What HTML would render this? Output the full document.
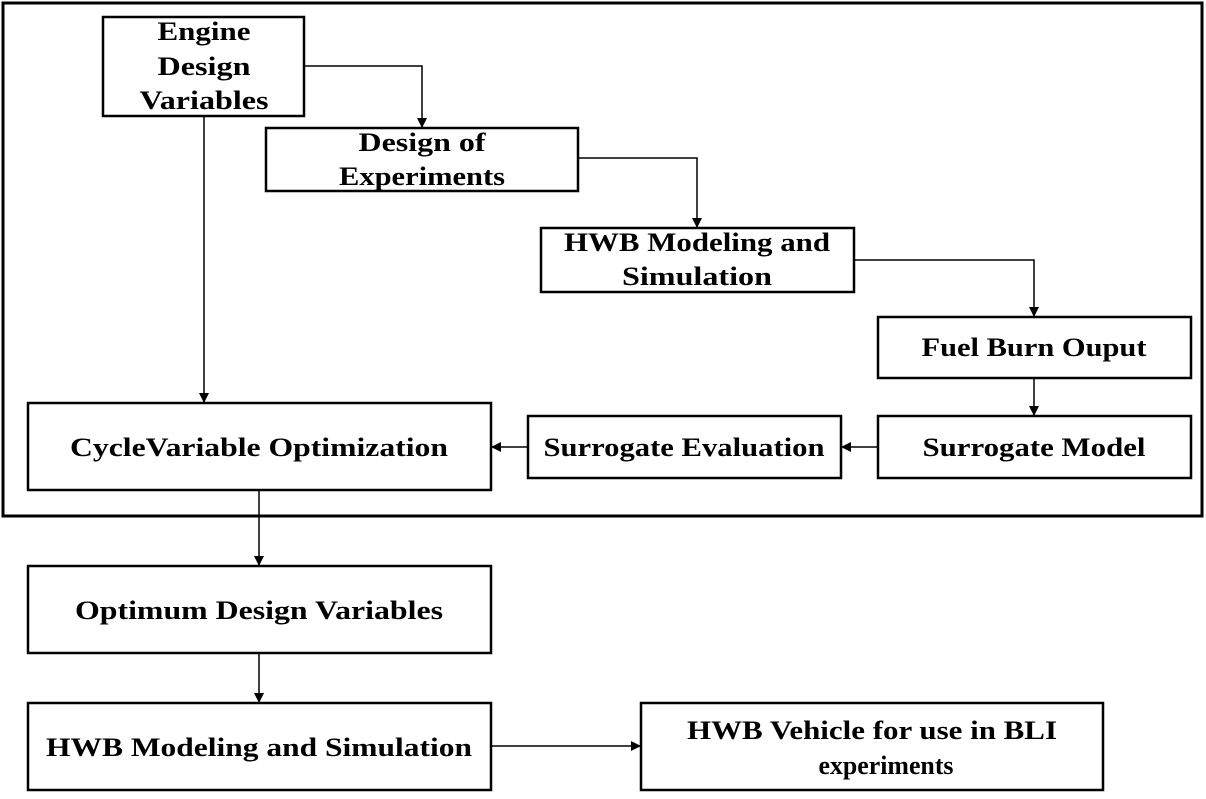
<!DOCTYPE html>
<html><head><style>
body{margin:0;background:#fff;}
svg text{font-family:"Liberation Serif",serif;font-weight:bold;font-size:26px;fill:#000;text-anchor:middle;}
</style></head><body>
<svg width="1206" height="794" viewBox="0 0 1206 794" xmlns="http://www.w3.org/2000/svg">
<defs><marker id="a" markerWidth="10" markerHeight="10" refX="9" refY="5" orient="auto" markerUnits="userSpaceOnUse"><path d="M0,0 L10,5 L0,10 z" fill="#000"/></marker></defs>
<rect x="3" y="3" width="1199" height="513" fill="none" stroke="#000" stroke-width="3"/>
<g fill="#fff" stroke="#000" stroke-width="2.5">
<rect x="103" y="17" width="201" height="99"/>
<rect x="266" y="128" width="312" height="63"/>
<rect x="541" y="228" width="313" height="64"/>
<rect x="878" y="317" width="313" height="61"/>
<rect x="878" y="416" width="313" height="62"/>
<rect x="528" y="416" width="313" height="62"/>
<rect x="28" y="403" width="463" height="87"/>
<rect x="28" y="566" width="463" height="87"/>
<rect x="28" y="703" width="463" height="87"/>
<rect x="641" y="703" width="462" height="87"/>
</g>
<g fill="none" stroke="#000" stroke-width="1.5" marker-end="url(#a)">
<path d="M304,66 H422 V127"/>
<path d="M578,158 H697 V227"/>
<path d="M854,260 H1034 V316"/>
<path d="M1034,378 V415"/>
<path d="M878,447 H842"/>
<path d="M528,447 H492"/>
<path d="M204,116 V402"/>
<path d="M259,490 V565"/>
<path d="M259,653 V702"/>
<path d="M491,746 H640"/>
</g>
<g lengthAdjust="spacingAndGlyphs">
<text x="204" y="40" textLength="93" lengthAdjust="spacingAndGlyphs">Engine</text>
<text x="204" y="75" textLength="93" lengthAdjust="spacingAndGlyphs">Design</text>
<text x="204" y="109" textLength="129" lengthAdjust="spacingAndGlyphs">Variables</text>
<text x="422" y="151" textLength="127" lengthAdjust="spacingAndGlyphs">Design of</text>
<text x="422" y="185" textLength="166" lengthAdjust="spacingAndGlyphs">Experiments</text>
<text x="697" y="251" textLength="266" lengthAdjust="spacingAndGlyphs">HWB Modeling and</text>
<text x="697" y="285" textLength="150" lengthAdjust="spacingAndGlyphs">Simulation</text>
<text x="1034" y="356" textLength="225" lengthAdjust="spacingAndGlyphs">Fuel Burn Ouput</text>
<text x="1034" y="456" textLength="223" lengthAdjust="spacingAndGlyphs">Surrogate Model</text>
<text x="684" y="456" textLength="281" lengthAdjust="spacingAndGlyphs">Surrogate Evaluation</text>
<text x="259" y="456" textLength="378" lengthAdjust="spacingAndGlyphs">CycleVariable Optimization</text>
<text x="259" y="619" textLength="368" lengthAdjust="spacingAndGlyphs">Optimum Design Variables</text>
<text x="259" y="756" textLength="426" lengthAdjust="spacingAndGlyphs">HWB Modeling and Simulation</text>
<text x="872" y="739" textLength="370" lengthAdjust="spacingAndGlyphs">HWB Vehicle for use in BLI</text>
<text x="886" y="774" textLength="135" lengthAdjust="spacingAndGlyphs">experiments</text>
</g>
</svg>
</body></html>
